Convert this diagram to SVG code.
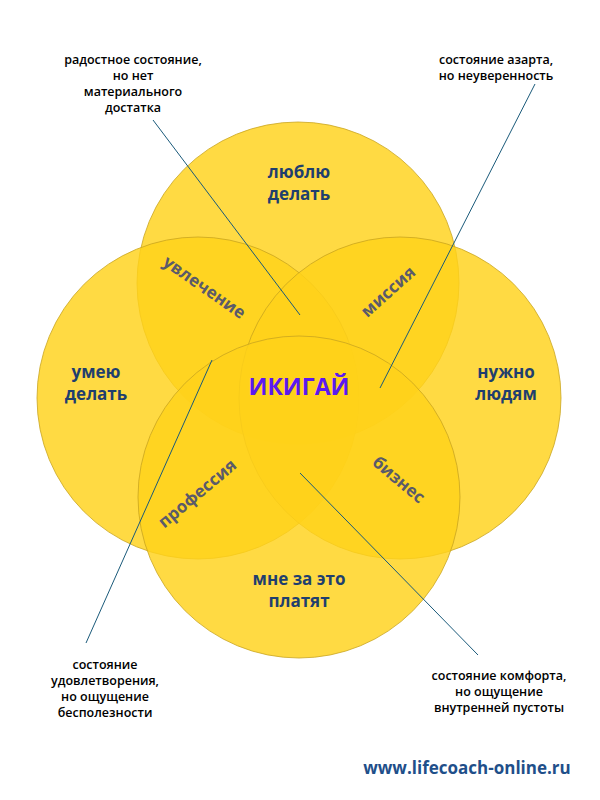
<svg xmlns="http://www.w3.org/2000/svg" width="600" height="800" viewBox="0 0 600 800">
<style>
.c{fill:#ffd21a;fill-opacity:0.82;stroke:#c9a520;stroke-width:0.8}
.t{font-family:"Open Sans","Noto Sans",sans-serif;font-weight:bold;font-size:17px;fill:#1f3f6e;text-anchor:middle}
.z{font-family:"Open Sans","Noto Sans",sans-serif;font-weight:bold;font-size:17px;fill:#5a5a6a;text-anchor:middle}
.n{font-family:"Open Sans","Noto Sans",sans-serif;font-weight:600;font-size:12.5px;fill:#000;text-anchor:middle}
.l{stroke:#1a5a7a;stroke-width:1;fill:none}
</style>
<rect width="600" height="800" fill="#fff"/>
<g id="circles">
<circle id="c-top" class="c" cx="298" cy="283" r="161"/>
<circle id="c-left" class="c" cx="198" cy="398" r="161"/>
<circle id="c-right" class="c" cx="400" cy="398" r="161"/>
<circle id="c-bottom" class="c" cx="299" cy="497" r="161"/>
</g>
<g id="labels">
<text class="t" x="299" y="178">люблю</text><text class="t" x="299" y="200">делать</text>
<text class="t" x="96" y="378">умею</text><text class="t" x="96" y="400">делать</text>
<text class="t" x="506" y="378">нужно</text><text class="t" x="506" y="400">людям</text>
<text class="t" x="299" y="585">мне за это</text><text class="t" x="299" y="607">платят</text>
<text class="z" transform="translate(201,292) rotate(35)">увлечение</text>
<text class="z" transform="translate(392,296) rotate(-42)">миссия</text>
<text class="z" transform="translate(201,498) rotate(-40)">профессия</text>
<text class="z" transform="translate(395,484) rotate(40)">бизнес</text>
<text x="299" y="395" font-family="'Open Sans','Noto Sans',sans-serif" font-weight="bold" font-size="23" fill="#5b19f0" text-anchor="middle">ИКИГАЙ</text>
</g>
<g id="connectors">
<line class="l" x1="153" y1="120" x2="300" y2="315"/>
<line class="l" x1="535" y1="84" x2="380" y2="388"/>
<line class="l" x1="212" y1="360" x2="86" y2="643"/>
<line class="l" x1="300" y1="473" x2="478" y2="655"/>
</g>
<g id="notes">
<text class="n" x="133" y="64">радостное состояние,</text><text class="n" x="133" y="80">но нет</text><text class="n" x="133" y="96">материального</text><text class="n" x="133" y="112">достатка</text>
<text class="n" x="496" y="64">состояние азарта,</text><text class="n" x="496" y="80">но неуверенность</text>
<text class="n" x="105" y="669">состояние</text><text class="n" x="105" y="685">удовлетворения,</text><text class="n" x="105" y="701">но ощущение</text><text class="n" x="105" y="717">бесполезности</text>
<text class="n" x="499" y="680">состояние комфорта,</text><text class="n" x="499" y="696">но ощущение</text><text class="n" x="499" y="712">внутренней пустоты</text>
<text x="467" y="774" font-family="'Open Sans','Noto Sans',sans-serif" font-weight="bold" font-size="17" fill="#1f4f8a" text-anchor="middle">www.lifecoach-online.ru</text>
</g>
</svg>
